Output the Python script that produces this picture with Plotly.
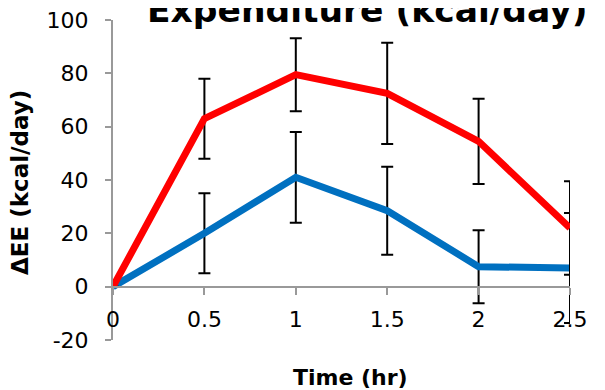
import plotly.graph_objects as go

time_hr = [0, 0.5, 1, 1.5, 2, 2.5]
red_vals = [0, 63, 79.5, 72.5, 54.5, 22]
red_err = [0, 15, 13.7, 19, 16, 17.5]
blue_vals = [0, 20, 41, 28.5, 7.5, 7]
blue_err = [0, 15, 17, 16.5, 13.7, 20.6]

x_ticks = [0, 0.5, 1, 1.5, 2, 2.5]
x_labels = ["0", "0.5", "1", "1.5", "2", "2.5"]
y_ticks = [-20, 0, 20, 40, 60, 80, 100]
y_labels = ["-20", "0", "20", "40", "60", "80", "100"]

title_text = "Expenditure (kcal/day)"
x_title = "Time (hr)"
y_title = "ΔEE (kcal/day)"

FONT = "DejaVu Sans"
GRAY = "#999999"

# page body has an 8px default margin; compensate
L, T, PW, PH = 105, 12, 457, 320

fig = go.Figure()
fig.add_trace(go.Scatter(
    x=time_hr, y=blue_vals, mode="lines",
    line=dict(color="#0070C0", width=7),
    error_y=dict(type="data", array=blue_err, visible=True,
                 color="black", thickness=2, width=6),
    showlegend=False,
))
fig.add_trace(go.Scatter(
    x=time_hr, y=red_vals, mode="lines",
    line=dict(color="#FF0000", width=7),
    error_y=dict(type="data", array=red_err, visible=True,
                 color="black", thickness=2, width=6),
    showlegend=False,
))

fig.update_layout(
    width=605, height=390,
    margin=dict(l=L, r=605 - L - PW, t=T, b=390 - T - PH, autoexpand=False),
    paper_bgcolor="white", plot_bgcolor="white",
    font=dict(family=FONT, size=22, color="black"),
    xaxis=dict(
        range=[0, 2.5], tickvals=x_ticks, ticktext=x_labels,
        showgrid=False, zeroline=False, automargin=False,
        showline=True, linecolor=GRAY, linewidth=2,
        ticks="outside", ticklen=7, tickwidth=2, tickcolor=GRAY,
        anchor="free", position=1/6,
        ticklabelstandoff=6, ticklabeloverflow="allow",
        tickfont=dict(family=FONT, size=22),
    ),
    yaxis=dict(
        range=[-20, 100], tickvals=y_ticks, ticktext=y_labels,
        showgrid=False, zeroline=False, automargin=False,
        showline=True, linecolor=GRAY, linewidth=2,
        ticks="outside", ticklen=6, tickwidth=2, tickcolor=GRAY,
        ticklabelstandoff=12, ticklabeloverflow="allow",
        tickfont=dict(family=FONT, size=22),
    ),
    annotations=[
        dict(text="<b>" + title_text + "</b>", xref="paper", yref="paper",
             x=0.557, y=0.961, xanchor="center", yanchor="bottom",
             showarrow=False, font=dict(family=FONT, size=34.5)),
        dict(text="<b>" + x_title + "</b>", xref="paper", yref="paper",
             x=(350 - 113) / 457, y=-(377 - 340) / 320, xanchor="center", yanchor="middle",
             showarrow=False, font=dict(family=FONT, size=22)),
        dict(text="<b>" + y_title + "</b>", xref="paper", yref="paper",
             x=-(113 - 20) / 457, y=(340 - 183) / 320, xanchor="center", yanchor="middle",
             textangle=-90, showarrow=False, font=dict(family=FONT, size=23)),
    ],
)

fig.write_html("out.html")
